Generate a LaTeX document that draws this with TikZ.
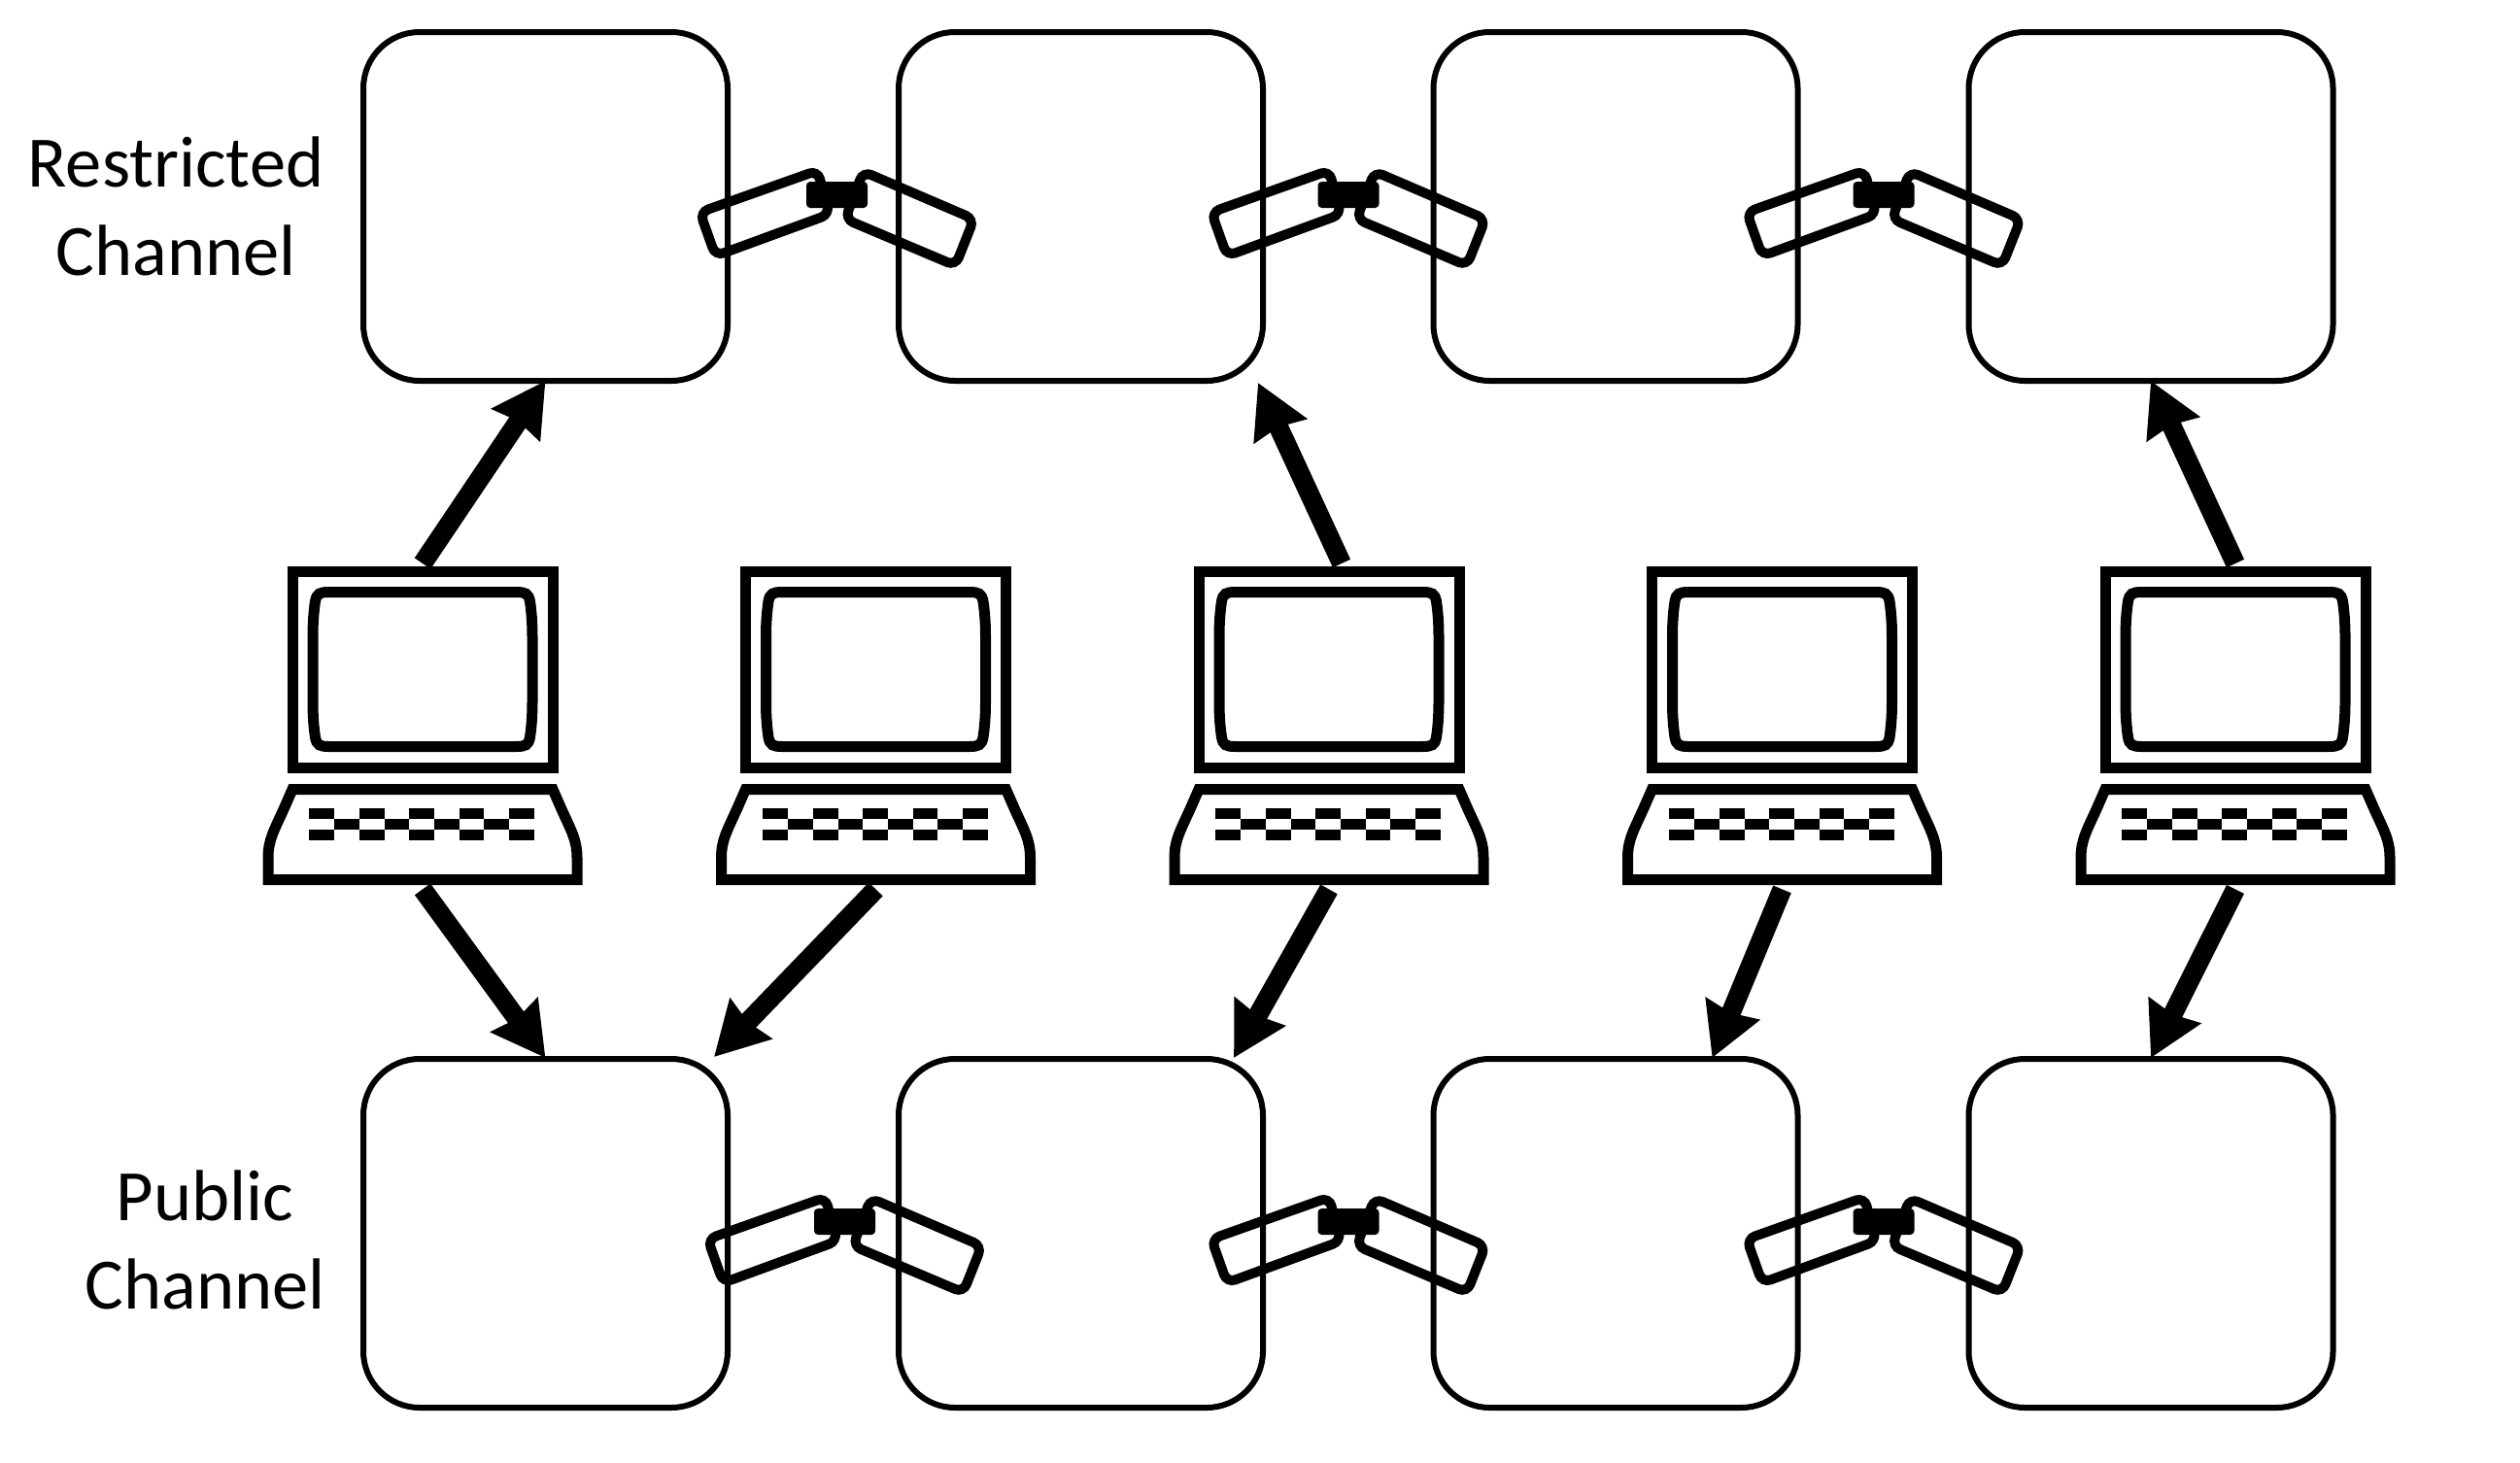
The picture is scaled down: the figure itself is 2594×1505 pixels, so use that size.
\documentclass[tikz,border=0pt]{standalone}
\usepackage{fontspec}
\setmainfont{Carlito}
\usetikzlibrary{arrows.meta,calc}
\tikzset{
  x=1pt,y=-1pt,
  chanbox/.style={draw=black,line width=6pt,rounded corners=58pt,minimum width=375pt,minimum height=359pt,inner sep=0pt,fill=white},
  laptopanchor/.style={inner sep=0pt,minimum width=278pt,minimum height=329pt},
  lapline/.style={draw=black,line width=11pt,line join=miter},
  linkline/.style={draw=black,line width=10pt,rounded corners=9pt},
  linkbar/.style={fill=black,draw=none,rounded corners=4pt},
  sendarrow/.style={draw=black,line width=20pt,-{Stealth[length=54pt,width=58pt,inset=4pt]}},
  label/.style={font=\fontsize{74.5pt}{91pt}\selectfont,align=center,inner sep=0pt},
}
\newcommand{\laptopicon}[2]{%
  \begin{scope}[shift={(#1,583)}]
    \node[laptopanchor,anchor=north] (#2) at (0,0) {};
    \draw[lapline] (-134,5.5) rectangle (134,207.5);
    \draw[lapline] (-96,26.5) -- (96,26.5) .. controls (106,26.5) and (109,28) .. (110.5,36)
      .. controls (112,46) and (113,58) .. (113,72) -- (113,140)
      .. controls (113,154) and (112,166) .. (110.5,176) .. controls (109,184) and (106,185.5) .. (96,185.5)
      -- (-96,185.5) .. controls (-106,185.5) and (-109,184) .. (-110.5,176)
      .. controls (-112,166) and (-113,154) .. (-113,140) -- (-113,72)
      .. controls (-113,58) and (-112,46) .. (-110.5,36) .. controls (-109,28) and (-106,26.5) .. (-96,26.5) -- cycle;
    \draw[lapline] (-134,229.5) -- (134,229.5) -- (143,250) .. controls (153,272) and (159,282) .. (159,300)
      -- (159,322.5) -- (-159,322.5) -- (-159,300) .. controls (-159,282) and (-153,272) .. (-143,250) -- cycle;
    \fill (-117,249) rectangle (-91,260);
    \fill (-65,249) rectangle (-39,260);
    \fill (-14,249) rectangle (12,260);
    \fill (38,249) rectangle (63,260);
    \fill (89,249) rectangle (115,260);
    \fill (-117,271) rectangle (-91,282);
    \fill (-65,271) rectangle (-39,282);
    \fill (-14,271) rectangle (12,282);
    \fill (38,271) rectangle (63,282);
    \fill (89,271) rectangle (115,282);
    \fill (-91,260) rectangle (-65,271);
    \fill (-39,260) rectangle (-14,271);
    \fill (12,260) rectangle (38,271);
    \fill (63,260) rectangle (89,271);
  \end{scope}}
\newcommand{\chainlink}[2]{%
  \begin{scope}[shift={(#1,#2)}]
    \draw[linkline] (-141,18) -- (-20,-25) -- (-7.5,20) -- (-125,63) -- cycle;
    \draw[linkline] (27,-24) -- (141,25) -- (122,73) -- (8.5,25) -- cycle;
    \fill[linkbar] (-31.5,-13.5) rectangle (31.5,13.5);
  \end{scope}}
\begin{document}
\begin{tikzpicture}
\useasboundingbox (0,0) rectangle (2594,1505);
\fill[white] (0,0) rectangle (2594,1505);
% channel boxes
\node[chanbox] (R1) at (561.5,212.5) {};
\node[chanbox] (R2) at (1112.5,212.5) {};
\node[chanbox] (R3) at (1663,212.5) {};
\node[chanbox] (R4) at (2214,212.5) {};
\node[chanbox] (P1) at (561.5,1269.5) {};
\node[chanbox] (P2) at (1112.5,1269.5) {};
\node[chanbox] (P3) at (1663,1269.5) {};
\node[chanbox] (P4) at (2214,1269.5) {};
% labels
\node[label] (restricted) at (181,212) {Restricted\\Channel};
\node[label] (public) at (211,1276) {Public\\Channel};
% chain links
\chainlink{861.5}{200.5}
\chainlink{1388}{200.5}
\chainlink{1939}{200.5}
\chainlink{869.5}{1257.5}
\chainlink{1388}{1257.5}
\chainlink{1939}{1257.5}
% laptops
\laptopicon{435}{L1}
\laptopicon{901.5}{L2}
\laptopicon{1368}{L3}
\laptopicon{1834.5}{L4}
\laptopicon{2301}{L5}
% arrows
\draw[sendarrow] ($(L1.north)+(0,-3)$) -- ($(R1.south)+(0,-3)$);
\draw[sendarrow] ($(L3.north)+(13,-3)$) -- ($(R2.south east)+(-8,-1)$);
\draw[sendarrow] ($(L5.north)+(0,-3)$) -- ($(R4.south)+(0,-3)$);
\draw[sendarrow] ($(L1.south)+(0,3)$) -- ($(P1.north)+(0,2)$);
\draw[sendarrow] ($(L2.south)+(0,3)$) -- ($(P1.north east)+(-17,1)$);
\draw[sendarrow] ($(L3.south)+(0,3)$) -- ($(P2.north east)+(-33,2)$);
\draw[sendarrow] ($(L4.south)+(0,3)$) -- ($(P3.north east)+(-91,2)$);
\draw[sendarrow] ($(L5.south)+(0,3)$) -- ($(P4.north)+(0,2)$);
\end{tikzpicture}
\end{document}
